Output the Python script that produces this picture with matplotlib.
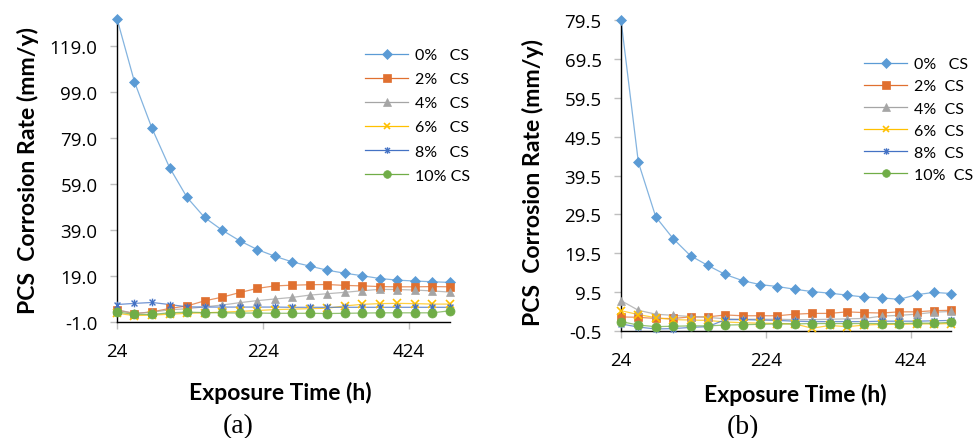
import numpy as np
import matplotlib
matplotlib.use("Agg")
import matplotlib.pyplot as plt
from matplotlib.path import Path

plt.rcParams['font.family'] = ['Lato', 'DejaVu Sans']

# exposure times (h)
hours = [24 * (i + 1) for i in range(20)]
xticks = [24, 224, 424]

labels_a = ['0%   CS', '2%   CS', '4%   CS', '6%   CS', '8%   CS', '10% CS']
labels_b = ['0%   CS', '2%  CS', '4%  CS', '6%  CS', '8%  CS', '10%  CS']

# panel (a)
a_0 = [131.0, 103.5, 83.3, 66.3, 53.3, 44.6, 39.1, 34.5, 30.7, 27.8,
       25.3, 23.5, 21.7, 20.4, 19.3, 18.1, 17.4, 17.0, 16.7, 16.4]
a_2 = [4.4, 2.9, 3.6, 5.1, 6.2, 8.4, 10.0, 12.0, 13.8, 14.9,
       15.2, 15.4, 15.5, 15.1, 14.9, 14.6, 14.5, 14.5, 14.6, 14.5]
a_4 = [4.5, 3.0, 3.5, 4.5, 5.0, 5.8, 6.6, 7.6, 8.5, 9.2,
       9.9, 10.9, 11.5, 12.1, 12.8, 13.4, 13.3, 13.1, 12.7, 12.2]
a_6 = [3.0, 2.0, 2.2, 2.6, 3.0, 3.2, 3.5, 3.8, 4.2, 4.6,
       4.8, 5.0, 5.2, 6.2, 6.9, 7.2, 7.3, 7.2, 7.0, 7.0]
a_8 = [6.8, 7.3, 7.7, 6.8, 5.8, 5.7, 5.7, 5.7, 5.7, 5.7,
       5.6, 5.6, 5.6, 5.6, 5.6, 5.6, 5.6, 5.6, 5.6, 5.6]
a_10 = [3.6, 2.5, 2.5, 3.2, 3.5, 3.3, 3.2, 3.1, 3.1, 3.0,
        3.0, 3.0, 2.9, 3.0, 3.1, 3.2, 3.2, 3.2, 3.2, 4.1]

# panel (b)
b_0 = [79.5, 42.9, 28.9, 23.3, 18.9, 16.4, 14.1, 12.5, 11.5, 11.0,
       10.3, 9.7, 9.3, 8.8, 8.3, 8.1, 7.7, 8.9, 9.5, 9.2]
b_2 = [3.2, 3.1, 2.8, 2.8, 3.2, 3.2, 3.7, 3.5, 3.5, 3.5,
       3.9, 4.1, 4.1, 4.5, 4.3, 4.2, 4.5, 4.5, 4.8, 4.9]
b_4 = [7.4, 4.9, 3.9, 3.6, 3.3, 3.1, 2.7, 2.6, 2.6, 2.6,
       2.5, 2.5, 2.6, 2.7, 2.8, 3.4, 3.6, 3.9, 4.4, 4.6]
b_6 = [4.8, 3.8, 3.0, 2.5, 2.4, 2.3, 1.9, 1.7, 1.6, 1.5,
       1.4, 0.3, 1.0, 0.7, 1.1, 1.3, 1.3, 1.4, 1.4, 1.5]
b_8 = [1.4, 0.6, 0.1, 0.2, 0.5, 0.7, 2.5, 2.5, 2.4, 2.3,
       2.1, 2.0, 2.0, 2.0, 2.0, 2.1, 2.1, 2.1, 2.2, 2.3]
b_10 = [2.0, 1.1, 0.7, 0.8, 0.9, 0.9, 1.1, 1.2, 1.3, 1.4,
        1.4, 1.5, 1.5, 1.5, 1.5, 1.5, 1.5, 1.6, 1.6, 1.8]

# excel-like asterisk: an x with a vertical bar
star = Path([(-1, -1), (1, 1), (-1, 1), (1, -1), (0, -1.3), (0, 1.3)],
            [Path.MOVETO, Path.LINETO, Path.MOVETO, Path.LINETO, Path.MOVETO, Path.LINETO])

styles = [
    dict(color='#5B9BD5', marker='D', ms=5.5),
    dict(color='#E07030', marker='s', ms=6.0),
    dict(color='#A5A5A5', marker='^', ms=6.0),
    dict(color='#FFC000', marker='x', ms=5.5, mew=1.2),
    dict(color='#4472C4', marker=star, ms=5.5, mew=1.0),
    dict(color='#70AD47', marker='o', ms=6.5),
]

tick_font = dict(family='Open Sans', fontsize=13.5)


def draw_panel(ax, series, yticks, ylim):
    for ys, st in zip(series, styles):
        ax.plot(hours, ys, color=st['color'], lw=0.9, alpha=0.75, clip_on=False)
        ax.plot(hours, ys, ls='none', marker=st['marker'], ms=st['ms'],
                mew=st.get('mew', 0.5), color=st['color'], clip_on=False, zorder=3)
    ax.set_xlim(24, 480)
    ax.set_ylim(*ylim)
    ax.set_xticks(xticks, [str(v) for v in xticks], **tick_font)
    ax.set_yticks(yticks, ['{:.1f}'.format(v).replace('\u2212', '-') for v in yticks], **tick_font)
    for s in ['top', 'right']:
        ax.spines[s].set_visible(False)
    for s in ['left', 'bottom']:
        ax.spines[s].set_color('black')
        ax.spines[s].set_linewidth(1.0)
    ax.tick_params(axis='both', direction='out', length=5, width=1.0, color='#BFBFBF', pad=9)
    ax.set_xlabel('Exposure Time (h)', fontsize=16.5, fontweight='bold', va='top')
    ax.set_ylabel('PCS  Corrosion Rate (mm/y)', fontsize=16.6, fontweight='bold')


def add_legend(ax, labels, x, y, spacing):
    handles = []
    for lab, st in zip(labels, styles):
        h, = ax.plot([], [], color=st['color'], lw=0.9, marker=st['marker'],
                     ms=st['ms'] * 0.85, mew=st.get('mew', 0.5), label=lab)
        handles.append(h)
    ax.legend(handles=handles, loc='upper left', bbox_to_anchor=(x, y),
              bbox_transform=fig.transFigure, frameon=False, fontsize=11.5,
              handlelength=2.7, handletextpad=0.4, labelspacing=spacing,
              borderpad=0, borderaxespad=0)


fig = plt.figure(figsize=(9.73, 4.39), dpi=100)
ax1 = fig.add_axes([0.1202, 0.2631, 0.3423, 0.695])
ax2 = fig.add_axes([0.6382, 0.2430, 0.3395, 0.7098])

draw_panel(ax1, [a_0, a_2, a_4, a_6, a_8, a_10], np.arange(-1, 120, 20), (-1, 131.5))
draw_panel(ax2, [b_0, b_2, b_4, b_6, b_8, b_10], np.arange(-0.5, 80, 10), (-0.5, 79.5))

ax1.xaxis.set_label_coords(0.489, -0.192)
ax2.xaxis.set_label_coords(0.528, -0.166)
ax1.yaxis.set_label_coords(-0.233, 0.5)
ax2.yaxis.set_label_coords(-0.233, 0.48)

add_legend(ax1, labels_a, 365 / 973, 1 - 49 / 439, 0.62)
add_legend(ax2, labels_b, 864 / 973, 1 - 58 / 439, 0.5)

fig.text(238 / 973, 1 - 427 / 439, '(a)', ha='center', va='center',
         fontsize=20, family='Liberation Serif')
fig.text(743 / 973, 1 - 428 / 439, '(b)', ha='center', va='center',
         fontsize=20, family='Liberation Serif')

fig.savefig('out.png', dpi=100)
